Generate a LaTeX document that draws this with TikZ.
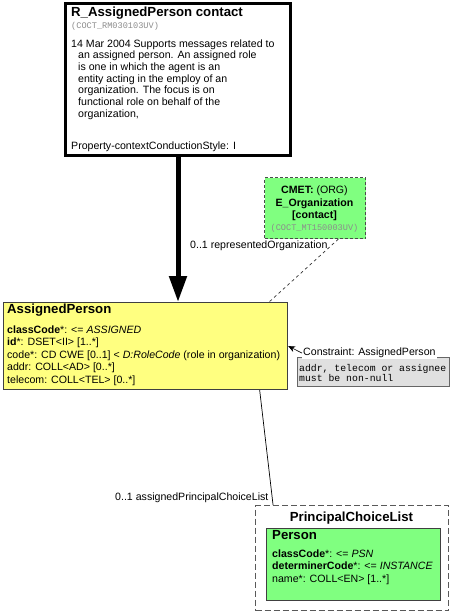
\documentclass[tikz,border=0pt]{standalone}
\usepackage{fontspec}
\setmainfont{Liberation Sans}
\newfontfamily\monof{Liberation Mono}
\usetikzlibrary{arrows.meta,calc}
\definecolor{ylw}{HTML}{FFFF80}
\definecolor{grn}{HTML}{80FF80}
\definecolor{cgray}{HTML}{E0E0E0}
\begin{document}
\begin{tikzpicture}[x=1pt,y=-1pt,
  txt/.style={anchor=base west,inner sep=0pt,font=\fontsize{10.6}{12.5}\selectfont},
  ttl/.style={anchor=base west,inner sep=0pt,font=\fontsize{13.2}{15}\selectfont\bfseries},
  mono/.style={anchor=base west,inner sep=0pt,text=black!45,font=\monof\fontsize{8.6}{10}\selectfont},
  cmono/.style={anchor=base west,inner sep=0pt,font=\monof\fontsize{9.8}{10}\selectfont},
  box/.style={anchor=north west,inner sep=0pt,draw=black!75,line width=1.2pt},
]
\useasboundingbox (0,0) rectangle (451,613);

% top box
\node[box,draw=black,line width=3pt,fill=white,minimum width=225pt,minimum height=152pt] (rap) at (64,2) {};
\node[ttl] (rapt) at (71,16.7) {R\_AssignedPerson contact};
\node[mono] (raps) at (71,28) {(COCT\_RM030103UV)};
\node[txt] (d1) at (71,47) {14 Mar 2004 Supports messages related to};
\node[txt] (d2) at (78,58.7) {an assigned person. An assigned role};
\node[txt] (d3) at (78,70.4) {is one in which the agent is an};
\node[txt] (d4) at (78,82.1) {entity acting in the employ of an};
\node[txt] (d5) at (78,93.8) {organization. The focus is on};
\node[txt] (d6) at (78,105.5) {functional role on behalf of the};
\node[txt] (d7) at (78,117.2) {organization,};
\node[txt] (d8) at (71,149) {Property-contextConductionStyle: I};

% CMET box
\node[box,draw=black!70,line width=1pt,dash pattern=on 3pt off 2pt,fill=grn,minimum width=101pt,minimum height=61pt] (cmet) at (264,177) {};
\node[anchor=base,inner sep=0pt,font=\fontsize{10.6}{12.5}\selectfont] (c1) at (314.5,193.8) {\textbf{CMET:} (ORG)};
\node[anchor=base,inner sep=0pt,font=\fontsize{10.6}{12.5}\selectfont\bfseries] (c2) at (314.5,206.3) {E\_Organization};
\node[anchor=base,inner sep=0pt,font=\fontsize{10.6}{12.5}\selectfont\bfseries] (c3) at (314.5,218.8) {[contact]};
\node[anchor=base,inner sep=0pt,text=black!45,font=\monof\fontsize{8.6}{10}\selectfont] (c4) at (314.5,230.8) {(COCT\_MT150003UV)};

% AssignedPerson
\node[box,fill=ylw,minimum width=284pt,minimum height=87pt] (ap) at (3,302) {};
\node[ttl] (apt) at (7,313.7) {AssignedPerson};
\node[txt] (a1) at (7,333) {\textbf{classCode}*: <= \textit{ASSIGNED}};
\node[txt] (a2) at (7,345.5) {\textbf{id}*: DSET<II> [1..*]};
\node[txt] (a3) at (7,358) {code*: CD CWE [0..1] < \textit{D:RoleCode} (role in organization)};
\node[txt] (a4) at (7,370.5) {addr: COLL<AD> [0..*]};
\node[txt] (a5) at (7,383) {telecom: COLL<TEL> [0..*]};

% constraint
\node[box,draw=black!60,line width=0.8pt,fill=cgray,minimum width=152pt,minimum height=29pt] (cons) at (297,357) {};
\node[anchor=base west,inner sep=1pt,fill=white,font=\fontsize{10.6}{12.5}\selectfont] (clab) at (302,355.8) {Constraint: AssignedPerson};
\node[cmono] (k1) at (299,371) {addr, telecom or assignee};
\node[cmono] (k2) at (299,381) {must be non-null};

% PrincipalChoiceList
\node[box,draw=black!65,line width=1.2pt,dash pattern=on 6pt off 3pt,fill=white,minimum width=193pt,minimum height=105pt] (pcl) at (255,505) {};
\node[anchor=base,inner sep=0pt,font=\fontsize{13.2}{15}\selectfont\bfseries] (pclt) at (351.5,521.7) {PrincipalChoiceList};
\node[box,fill=grn,minimum width=174pt,minimum height=72pt] (per) at (266,528) {};
\node[ttl] (pert) at (272,539.7) {Person};
\node[txt] (p1) at (272,557) {\textbf{classCode}*: <= \textit{PSN}};
\node[txt] (p2) at (272,569.5) {\textbf{determinerCode}*: <= \textit{INSTANCE}};
\node[txt] (p3) at (272,582) {name*: COLL<EN> [1..*]};

% connectors
\draw[line width=5pt,-{Triangle[length=26pt,width=17pt]}] (rap.south) -- (rap.south |- ap.north);
\draw[black!80,line width=0.7pt,dashed] ($(cmet.south west)!0.73!(cmet.south east)$) -- ($(ap.north west)!0.933!(ap.north east)$);
\node[txt] (lro) at (190,248.8) {0..1 representedOrganization};
\draw[line width=0.7pt] ($(ap.south west)!0.90!(ap.south east)$) -- ($(pcl.north west)!0.093!(pcl.north east)$);
\node[txt] (lapcl) at (115,500.8) {0..1 assignedPrincipalChoiceList};
\draw[line width=0.6pt,-{Stealth[length=7pt,width=6pt]}] (clab.west) -- (ap.east);
\end{tikzpicture}
\end{document}
